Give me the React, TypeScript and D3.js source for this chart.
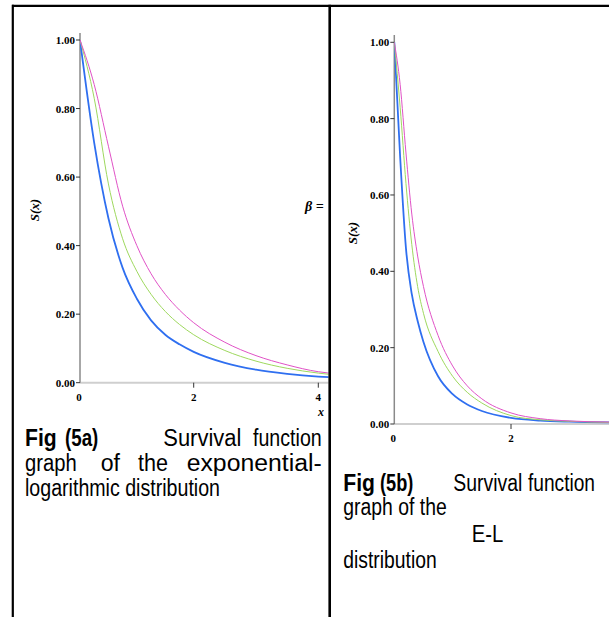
import React from "react";
import * as d3 from "d3";

// values
const Y_TICKS = [0, 0.2, 0.4, 0.6, 0.8, 1.0];
const LEFT_X_TICKS = [2, 4];
const RIGHT_X_TICKS = [2];

const LEFT_X = [0, 0.25, 0.5, 0.75, 1, 1.25, 1.5, 1.75, 2, 2.5, 3, 3.5, 4, 4.3];
const LEFT_BLUE = [1.0, 0.7, 0.48, 0.335, 0.245, 0.182, 0.14, 0.112, 0.09, 0.058, 0.038, 0.026, 0.018, 0.015];
const LEFT_GREEN = [1.0, 0.83, 0.58, 0.42, 0.325, 0.258, 0.208, 0.17, 0.14, 0.094, 0.063, 0.042, 0.028, 0.022];
const LEFT_MAGENTA = [1.0, 0.87, 0.69, 0.515, 0.4, 0.318, 0.258, 0.212, 0.175, 0.118, 0.079, 0.052, 0.032, 0.026];

const RIGHT_X = [0, 0.1, 0.2, 0.3, 0.4, 0.5, 0.75, 1, 1.25, 1.5, 2, 2.5, 3, 3.7];
const RIGHT_BLUE = [1.0, 0.7, 0.46, 0.34, 0.27, 0.215, 0.125, 0.078, 0.051, 0.034, 0.016, 0.009, 0.006, 0.004];
const RIGHT_GREEN = [1.0, 0.83, 0.63, 0.47, 0.36, 0.29, 0.19, 0.125, 0.083, 0.055, 0.022, 0.011, 0.007, 0.004];
const RIGHT_MAGENTA = [1.0, 0.89, 0.71, 0.55, 0.44, 0.36, 0.232, 0.152, 0.1, 0.066, 0.029, 0.014, 0.008, 0.005];

const SERIES_COLORS = ["#2f6ff0", "#9ed85e", "#e052c6"];
const SERIES_WIDTHS = [1.8, 1, 1];

const serif = "'Liberation Serif', 'DejaVu Serif', serif";
const sans = "'Liberation Sans Narrow', 'Liberation Sans', Arial, sans-serif";

type PlotProps = {
  xs: number[];
  series: number[][];
  x: d3.ScaleLinear<number, number>;
  y: d3.ScaleLinear<number, number>;
  xTicks: number[];
  xEnd: number;
  yTop: number;
  clipId: string;
};

const Plot = ({ xs, series, x, y, xTicks, xEnd, yTop, clipId }: PlotProps) => {
  const x0 = x(0);
  const y0 = y(0);
  const line = d3
    .line<number>()
    .x((_, i) => x(xs[i]))
    .y((d) => y(d))
    .curve(d3.curveMonotoneX);

  return (
    <g>
      <defs>
        <clipPath id={clipId}>
          <rect x={x0} y={yTop - 10} width={xEnd - x0} height={y0 - yTop + 12} />
        </clipPath>
      </defs>
      {/* x axis */}
      <line x1={x0} x2={xEnd} y1={y0} y2={y0} stroke="#cfcfcf" strokeWidth={2} />
      {xTicks.map((t) => (
        <g key={t}>
          <line x1={x(t)} x2={x(t)} y1={y0} y2={y0 + 5} stroke="#333" strokeWidth={1} />
          <text x={x(t)} y={y0 + 18} textAnchor="middle" fontFamily={serif} fontWeight="bold" fontSize={11}>
            {t}
          </text>
        </g>
      ))}
      <text x={x0 - 1} y={y0 + 18} textAnchor="middle" fontFamily={serif} fontWeight="bold" fontSize={11}>
        0
      </text>
      {/* y axis */}
      <line x1={x0} x2={x0} y1={yTop} y2={y0} stroke="#8a8a8a" strokeWidth={1.5} />
      {Y_TICKS.map((t) => (
        <g key={t}>
          <line x1={x0 - 4} x2={x0} y1={y(t)} y2={y(t)} stroke="#333" strokeWidth={1} />
          <text x={x0 - 5} y={y(t) + 4} textAnchor="end" fontFamily={serif} fontWeight="bold" fontSize={11}>
            {t.toFixed(2)}
          </text>
        </g>
      ))}
      <g clipPath={`url(#${clipId})`}>
        {series.map((s, i) => (
          <path key={i} d={line(s) || ""} fill="none" stroke={SERIES_COLORS[i]} strokeWidth={SERIES_WIDTHS[i]} />
        ))}
      </g>
    </g>
  );
};

const Word = ({ x, y, w, bold, children }: { x: number; y: number; w: number; bold?: boolean; children: string }) => (
  <text
    x={x}
    y={y}
    fontFamily={sans}
    fontSize={23}
    fontWeight={bold ? "bold" : "normal"}
    textLength={w}
    lengthAdjust="spacingAndGlyphs"
  >
    {children}
  </text>
);

export default function App() {
  const leftX = d3.scaleLinear().domain([0, 2, 4]).range([80, 193.7, 318.3]);
  const leftY = d3.scaleLinear().domain([0, 1]).range([382.7, 40]);
  const rightX = d3.scaleLinear().domain([0, 2]).range([394.3, 511]);
  const rightY = d3.scaleLinear().domain([0, 1]).range([424, 42.3]);

  return (
    <div style={{ position: "absolute", left: 0, top: 0 }}>
      <svg width={609} height={617} style={{ display: "block", background: "#fff" }}>
        <Plot
          xs={LEFT_X}
          series={[LEFT_BLUE, LEFT_GREEN, LEFT_MAGENTA]}
          x={leftX}
          y={leftY}
          xTicks={LEFT_X_TICKS}
          xEnd={328.5}
          yTop={33}
          clipId="clipLeft"
        />
        <Plot
          xs={RIGHT_X}
          series={[RIGHT_BLUE, RIGHT_GREEN, RIGHT_MAGENTA]}
          x={rightX}
          y={rightY}
          xTicks={RIGHT_X_TICKS}
          xEnd={609}
          yTop={35}
          clipId="clipRight"
        />

        {/* axis titles */}
        <text
          transform="translate(39,210) rotate(-90)"
          textAnchor="middle"
          fontFamily={serif}
          fontStyle="italic"
          fontWeight="bold"
          fontSize={13}
        >
          S(x)
        </text>
        <text
          transform="translate(357,233) rotate(-90)"
          textAnchor="middle"
          fontFamily={serif}
          fontStyle="italic"
          fontWeight="bold"
          fontSize={13}
        >
          S(x)
        </text>
        <text x={321} y={416} textAnchor="middle" fontFamily={serif} fontStyle="italic" fontWeight="bold" fontSize={12}>
          x
        </text>
        <text x={305} y={211} fontFamily={serif} fontStyle="italic" fontWeight="bold" fontSize={14}>
          β =
        </text>

        {/* caption 5a */}
        <Word x={25} y={446} w={31.7} bold>Fig</Word>
        <Word x={65} y={446} w={33.3} bold>(5a)</Word>
        <Word x={163.3} y={446} w={78}>Survival</Word>
        <Word x={253} y={446} w={68.7}>function</Word>
        <Word x={25} y={471} w={51.7}>graph</Word>
        <Word x={100.7} y={471} w={19.3}>of</Word>
        <Word x={138} y={471} w={30}>the</Word>
        <Word x={186.7} y={471} w={135}>exponential-</Word>
        <Word x={25} y={496} w={195}>logarithmic distribution</Word>

        {/* caption 5b */}
        <Word x={343.3} y={491} w={31.7} bold>Fig</Word>
        <Word x={380} y={491} w={33.3} bold>(5b)</Word>
        <Word x={453.3} y={491} w={69}>Survival</Word>
        <Word x={528} y={491} w={67}>function</Word>
        <Word x={343.3} y={515} w={103.4}>graph of the</Word>
        <Word x={471.7} y={542} w={31.6}>E-L</Word>
        <Word x={343.3} y={568} w={93.4}>distribution</Word>

        {/* table borders */}
        <line x1={12} x2={609} y1={5.8} y2={5.8} stroke="#000" strokeWidth={2.2} />
        <line x1={12.8} x2={12.8} y1={4.7} y2={617} stroke="#000" strokeWidth={2.2} />
        <line x1={329.7} x2={329.7} y1={4.7} y2={617} stroke="#000" strokeWidth={2.6} />
      </svg>
    </div>
  );
}
